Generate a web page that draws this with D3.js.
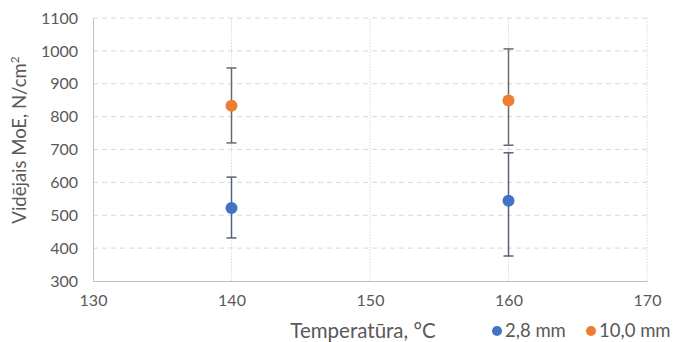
<!DOCTYPE html>
<html><head><meta charset="utf-8">
<script src="https://cdn.jsdelivr.net/npm/d3@7"></script>
<style>body{margin:0;background:#fff}svg{display:block}text{font-family:Lato,"Open Sans",sans-serif;fill:#595959}</style>
</head><body><svg id="c" width="674" height="342"></svg>
<script>
const temps = [140, 160];
const seriesNames = ["2,8 mm", "10,0 mm"];
const means28 = [522, 544];
const low28 = [431, 376];
const high28 = [616, 690];
const means100 = [833, 849];
const low100 = [720, 713];
const high100 = [948, 1006];
const xTicks = [130, 140, 150, 160, 170];
const yTicks = [300, 400, 500, 600, 700, 800, 900, 1000, 1100];
const colors = ["#4472C4", "#ED7D31"];
const errColors = ["#56627a", "#6a6a6a"];

const series = [
  {name: seriesNames[0], mean: means28, low: low28, high: high28},
  {name: seriesNames[1], mean: means100, low: low100, high: high100}
];

const svg = d3.select("#c");
const x = d3.scaleLinear().domain([130, 170]).range([93, 647]);
const y = d3.scaleLinear().domain([300, 1100]).range([281, 18]);

svg.append("g").selectAll("line").data(yTicks.filter(d => d > 300)).join("line")
  .attr("x1", x(130)).attr("x2", x(170)).attr("y1", d => y(d)).attr("y2", d => y(d))
  .attr("stroke", "#d9d9d9").attr("stroke-width", 1).attr("stroke-dasharray", "5,4");
svg.append("g").selectAll("line").data(xTicks.filter(d => d > 130)).join("line")
  .attr("x1", d => x(d)).attr("x2", d => x(d)).attr("y1", y(300)).attr("y2", y(1100))
  .attr("stroke", "#d9d9d9").attr("stroke-width", 1).attr("stroke-dasharray", "1.5,1.5");

const xAxis = svg.append("g").attr("transform", `translate(0,${y(300)})`)
  .call(d3.axisBottom(x).tickValues(xTicks).tickFormat(d3.format("d")).tickSize(0).tickPadding(14));
xAxis.select(".domain").attr("stroke", "#bfbfbf");
const yAxis = svg.append("g").attr("transform", `translate(${x(130)},0)`)
  .call(d3.axisLeft(y).tickValues(yTicks).tickFormat(d3.format("d")).tickSize(0).tickPadding(15));
yAxis.select(".domain").attr("stroke", "#bfbfbf");
svg.selectAll(".tick text").style("font-family", "Lato, sans-serif").style("font-size", "16px").attr("fill", "#595959");

series.forEach((s, i) => {
  const g = svg.append("g");
  temps.forEach((t, j) => {
    const cx = x(t);
    g.append("line").attr("x1", cx).attr("x2", cx).attr("y1", y(s.low[j])).attr("y2", y(s.high[j]))
      .attr("stroke", errColors[i]).attr("stroke-width", 1.5);
    [s.low[j], s.high[j]].forEach(v => {
      g.append("line").attr("x1", cx - 5).attr("x2", cx + 5).attr("y1", y(v)).attr("y2", y(v))
        .attr("stroke", errColors[i]).attr("stroke-width", 1.5);
    });
  });
});
series.forEach((s, i) => {
  svg.append("g").selectAll("circle").data(temps).join("circle")
    .attr("cx", d => x(d)).attr("cy", (d, j) => y(s.mean[j])).attr("r", 6)
    .attr("fill", colors[i]);
});

svg.append("text").attr("x", 363).attr("y", 338).attr("text-anchor", "middle")
  .style("font-size", "20.5px").text("Temperatūra, °C");
svg.append("text").attr("transform", "translate(26,140) rotate(-90)").attr("text-anchor", "middle")
  .style("font-size", "18.5px").html('Vidējais MoE, N/cm<tspan dy="-7" font-size="12">2</tspan>');

const leg = [{x: 497}, {x: 591}];
series.forEach((s, i) => {
  svg.append("circle").attr("cx", leg[i].x).attr("cy", 331).attr("r", 5).attr("fill", colors[i]);
  svg.append("text").attr("x", leg[i].x + 8).attr("y", 337).style("font-size", "18.5px").text(s.name);
});
</script></body></html>
